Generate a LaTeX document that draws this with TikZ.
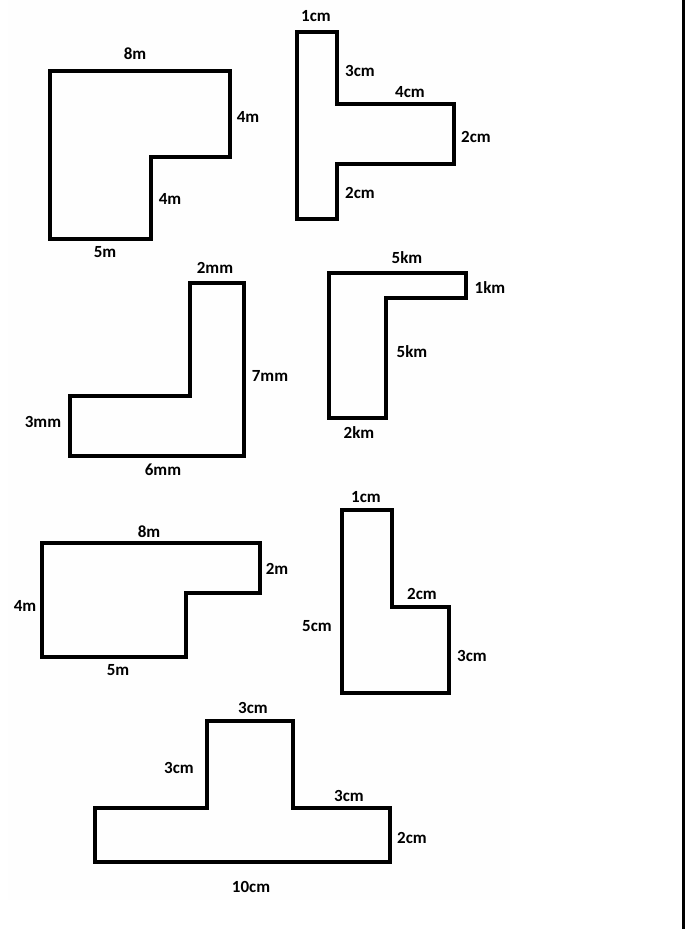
\documentclass[tikz,border=0pt]{standalone}
\usepackage{fontspec}
\setmainfont{Carlito}
\usepackage{tikz}
\usetikzlibrary{positioning}

\begin{document}
\begin{tikzpicture}[x=1pt,y=-1pt,
    outline/.style={draw=black,line width=3.3pt,line join=miter},
    lbl/.style={inner sep=0pt,font=\fontsize{17}{19}\selectfont\bfseries}]

  \useasboundingbox (0,0) rectangle (686,929);
  \fill[white!99.6!black] (8,0) rectangle (510,900);
  \draw[line width=3pt] (683,0) -- (683,929);

  % L shape, metres (top left)
  \draw[outline] (50,71) -- (230,71) -- (230,157) -- (151,157) -- (151,239) -- (50,239) -- cycle;
  \node[lbl] (lTop)   at (135,54)  {8m};
  \node[lbl] (lRight) at (248,117) {4m};
  \node[lbl] (lIn)    at (170,199) {4m};
  \node[lbl] (lBot)   at (105,252) {5m};

  % T shape on its side, cm
  \draw[outline] (297,32) -- (337,32) -- (337,104) -- (454,104) -- (454,164) -- (337,164) -- (337,219) -- (297,219) -- cycle;
  \node[lbl] (tTop)    at (316,16)  {1cm};
  \node[lbl] (tUpper)  at (360,71)  {3cm};
  \node[lbl] (tArm)    at (410,92)  {4cm};
  \node[lbl] (tRight)  at (476,137) {2cm};
  \node[lbl] (tLower)  at (360,193) {2cm};

  % L shape, mm
  \draw[outline] (190,283) -- (244,283) -- (244,456) -- (70,456) -- (70,396) -- (190,396) -- cycle;
  \node[lbl] (mTop)   at (215,268) {2mm};
  \node[lbl] (mRight) at (270,376) {7mm};
  \node[lbl] (mLeft)  at (43,422)  {3mm};
  \node[lbl] (mBot)   at (163,470) {6mm};

  % Gamma shape, km
  \draw[outline] (329,273) -- (466,273) -- (466,298) -- (386,298) -- (386,418) -- (329,418) -- cycle;
  \node[lbl] (kTop)   at (407,258) {5km};
  \node[lbl] (kRight) at (490,288) {1km};
  \node[lbl] (kIn)    at (412,352) {5km};
  \node[lbl] (kBot)   at (359,433) {2km};

  % L shape, metres (lower)
  \draw[outline] (42,543) -- (260,543) -- (260,593) -- (186,593) -- (186,657) -- (42,657) -- cycle;
  \node[lbl] (rTop)   at (149,532) {8m};
  \node[lbl] (rRight) at (277,569) {2m};
  \node[lbl] (rLeft)  at (25,606)  {4m};
  \node[lbl] (rBot)   at (118,670) {5m};

  % L shape, cm
  \draw[outline] (342,510) -- (392,510) -- (392,607) -- (449,607) -- (449,693) -- (342,693) -- cycle;
  \node[lbl] (cTop)   at (366,497) {1cm};
  \node[lbl] (cStep)  at (422,594) {2cm};
  \node[lbl] (cLeft)  at (317,626) {5cm};
  \node[lbl] (cRight) at (472,656) {3cm};

  % upside down T, cm
  \draw[outline] (207,721) -- (293,721) -- (293,808) -- (390,808) -- (390,862) -- (95,862) -- (95,808) -- (207,808) -- cycle;
  \node[lbl] (bTop)   at (253,708) {3cm};
  \node[lbl] (bStem)  at (179,768) {3cm};
  \node[lbl] (bArm)   at (349,796) {3cm};
  \node[lbl] (bRight) at (412,838) {2cm};
  \node[lbl] (bBot)   at (251,887) {10cm};

\end{tikzpicture}
\end{document}
